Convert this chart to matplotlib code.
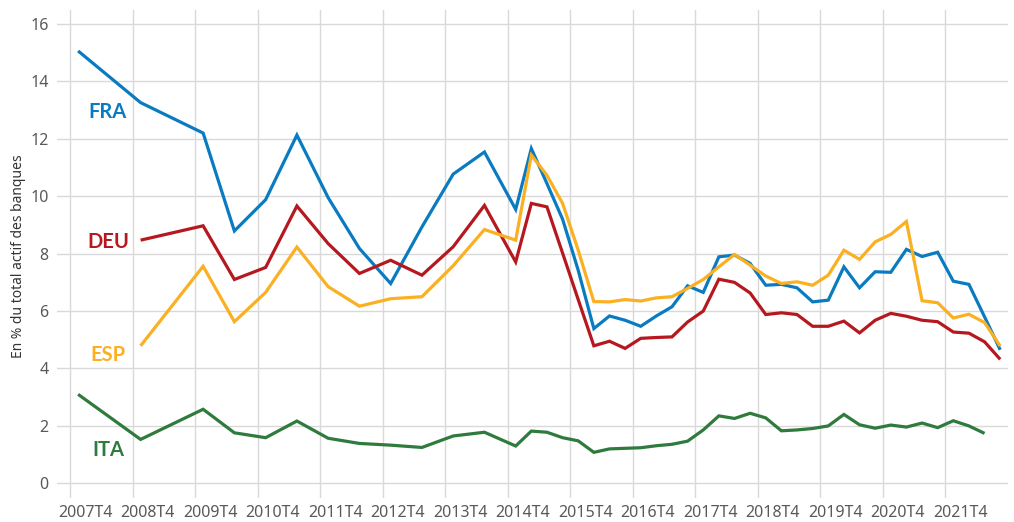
import numpy as np
import matplotlib
matplotlib.use("Agg")
import matplotlib.pyplot as plt

plt.rcParams['font.family'] = ['Noto Sans', 'DejaVu Sans']

periods = (["2007T4", "2008T4", "2009T4", "2010T2", "2010T4", "2011T2", "2011T4",
            "2012T2", "2012T4", "2013T2", "2013T4", "2014T2", "2014T4"] +
           [f"{y}T{q}" for y in range(2015, 2023) for q in range(1, 5)][:31])

nan = np.nan
fra = [15.06, 13.26, 12.20, 8.79, 9.88, 12.13, 9.95, 8.18, 6.96, 8.93, 10.77, 11.54, 9.54,
       11.66, 10.44, 9.20, 7.42, 5.39, 5.83, 5.68, 5.47, 5.83, 6.15, 6.88, 6.65, 7.89, 7.95,
       7.66, 6.90, 6.93, 6.81, 6.32, 6.38, 7.54, 6.81, 7.37, 7.35, 8.15, 7.90, 8.05, 7.04,
       6.93, 5.80, 4.65]
deu = [nan, 8.47, 8.97, 7.10, 7.52, 9.66, 8.35, 7.31, 7.77, 7.25, 8.24, 9.68, 7.71,
       9.75, 9.63, 8.02, 6.40, 4.79, 4.95, 4.70, 5.05, 5.08, 5.10, 5.62, 6.00, 7.11, 7.00,
       6.63, 5.88, 5.94, 5.88, 5.47, 5.47, 5.65, 5.24, 5.68, 5.92, 5.82, 5.68, 5.63, 5.27,
       5.23, 4.93, 4.32]
esp = [nan, 4.79, 7.56, 5.63, 6.65, 8.23, 6.85, 6.17, 6.43, 6.50, 7.58, 8.84, 8.47,
       11.43, 10.73, 9.75, 8.12, 6.33, 6.32, 6.40, 6.35, 6.46, 6.50, 6.79, 7.10, 7.54, 7.97,
       7.60, 7.22, 6.96, 7.02, 6.90, 7.25, 8.12, 7.80, 8.41, 8.67, 9.12, 6.36, 6.29, 5.76,
       5.89, 5.60, 4.78]
ita = [3.10, 1.53, 2.58, 1.76, 1.59, 2.17, 1.57, 1.39, 1.33, 1.25, 1.65, 1.78, 1.30,
       1.82, 1.78, 1.59, 1.48, 1.08, 1.20, 1.22, 1.24, 1.31, 1.36, 1.47, 1.86, 2.35, 2.26,
       2.44, 2.28, 1.83, 1.86, 1.91, 2.00, 2.40, 2.04, 1.92, 2.03, 1.96, 2.10, 1.94, 2.18,
       2.00, 1.74, nan]

tick_labels = [f"{y}T4" for y in range(2007, 2022)]
y_ticks = [0, 2, 4, 6, 8, 10, 12, 14, 16]


def qindex(p):
    y, q = p.split("T")
    return (int(y) - 2007) * 4 + int(q) - 4


x = np.array([qindex(p) for p in periods], dtype=float)

series = [
    ("FRA", fra, "#0a7bc1", 111.5),
    ("DEU", deu, "#b5191f", 241.5),
    ("ESP", esp, "#fbb022", 355),
    ("ITA", ita, "#2f7a3d", 450),
]

W, H = 1014, 522
fig = plt.figure(figsize=(W / 100, H / 100), dpi=100)
ax = fig.add_axes([57 / W, 1 - 497.7 / H, 951 / W, (497.7 - 9.6) / H])

for name, vals, color, ly in series:
    ax.plot(x, np.array(vals, dtype=float), color=color, lw=2.3, solid_joinstyle='miter',
            solid_capstyle='butt', zorder=3)
    fig.text(108 / W, 1 - ly / H, name, color=color, fontsize=14.5, fontweight='bold',
             family=['Lato', 'DejaVu Sans'], ha='center', va='center')

ax.set_xlim(-1.35, 59.5)
ax.set_ylim(-0.5, 16.5)

gx = [qindex(t) - 0.5 for t in tick_labels]
ax.set_xticks(gx)
ax.set_xticklabels([])
ax.set_xticks([g + 0.95 for g in gx], minor=True)
ax.set_xticklabels(tick_labels, minor=True)
ax.set_yticks(y_ticks)
ax.set_yticklabels([str(v) for v in y_ticks])

ax.grid(True, which='major', color='#d9d9d9', lw=1.0, zorder=0)
for s in ax.spines.values():
    s.set_visible(False)
ax.tick_params(which='both', length=0, colors='#595959', labelsize=11.5)
ax.tick_params(axis='x', which='minor', pad=5)
ax.tick_params(axis='y', pad=6)

ax.set_ylabel("En % du total actif des banques", fontsize=10, color='#333333', labelpad=4)
ax.yaxis.set_label_coords(-31 / 951, (497.7 - 256) / (497.7 - 9.6))

fig.savefig("out.png", dpi=100)
